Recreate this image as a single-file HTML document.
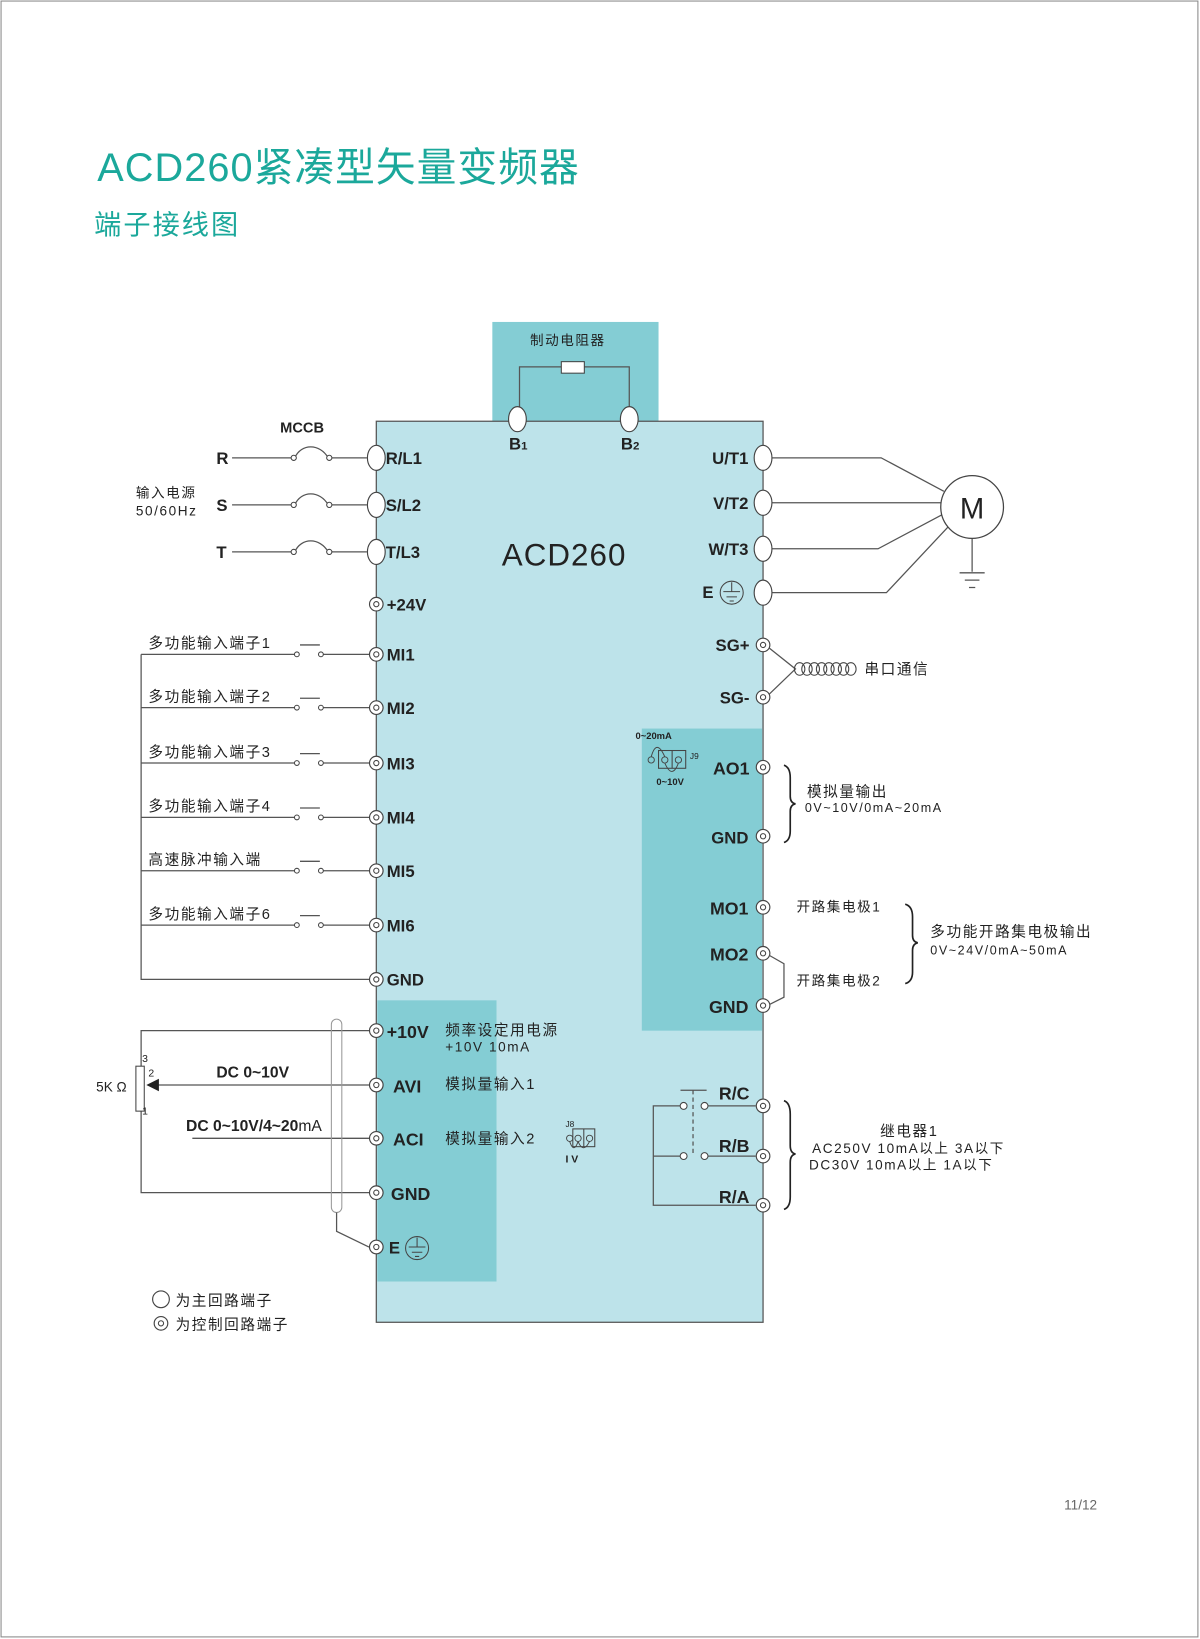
<!DOCTYPE html>
<html><head><meta charset="utf-8"><style>
html,body{margin:0;padding:0;background:#fff;}
svg{display:block;}
text{font-family:"Liberation Sans","Noto Sans CJK SC",sans-serif;fill:#222;}
.b{font-weight:bold;font-size:16px;}
.c{font-size:14px;letter-spacing:1.5px;}
.s{font-size:12px;letter-spacing:1px;}
.w{stroke:#555;stroke-width:1.2;fill:none;}
</style></head><body>
<svg width="1200" height="1639" viewBox="0 0 1148 1568" xmlns="http://www.w3.org/2000/svg">
<defs>
<g id="ct"><circle r="6.5" fill="#fff" stroke="#444" stroke-width="1.1"/><circle r="2.5" fill="none" stroke="#444" stroke-width="1"/></g>
<g id="mt"><ellipse rx="8.5" ry="12" fill="#fff" stroke="#444" stroke-width="1.1"/></g>
<g id="gnd"><circle r="11" fill="none" stroke="#444" stroke-width="1"/><path d="M0-10V-1M-8-1H8M-5 4H5M-2 8H2" stroke="#444" stroke-width="1" fill="none"/></g>
</defs>
<rect x="1" y="1" width="1145" height="1565" fill="#fff" stroke="#888" stroke-width="1"/>
<text x="93" y="173" style="font-size:38px;fill:#1ba89b;letter-spacing:1px">ACD260紧凑型矢量变频器</text>
<text x="90" y="224" style="font-size:26px;fill:#1ba89b;letter-spacing:2px">端子接线图</text>

<!-- brake box -->
<rect x="471" y="308" width="159" height="96" fill="#84cdd4"/>
<text x="507" y="330" class="c" style="font-size:13px">制动电阻器</text>
<path class="w" d="M497 393V351H537M559 351H602V393"/>
<rect x="537" y="346" width="22" height="11" fill="#fff" stroke="#444"/>

<!-- main box -->
<rect x="360" y="403" width="370" height="862" fill="#bde3ea" stroke="#555" stroke-width="1.2"/>
<rect x="361" y="957" width="114" height="269" fill="#84cdd4"/>
<rect x="614" y="697" width="115" height="289" fill="#84cdd4"/>
<use href="#mt" x="495" y="401"/><use href="#mt" x="602" y="401"/>
<text x="487" y="430" class="b">B<tspan style="font-size:11px">1</tspan></text>
<text x="594" y="430" class="b">B<tspan style="font-size:11px">2</tspan></text>
<text x="480" y="541" style="font-size:30px;letter-spacing:1px">ACD260</text>

<!-- left main terminals -->
<text x="268" y="414" class="b" style="font-size:14px">MCCB</text>
<text x="130" y="476" class="c" style="font-size:13px">输入电源</text>
<text x="130" y="493" class="c" style="font-size:13px">50/60Hz</text>
<text x="207" y="444" class="b">R</text>
<text x="207" y="489" class="b">S</text>
<text x="207" y="534" class="b">T</text>
<g class="w">
<path d="M222 438H280M316 438H351"/><path d="M282 438C288 424 306 424 314 438"/>
<path d="M222 483H280M316 483H351"/><path d="M282 483C288 469 306 469 314 483"/>
<path d="M222 528H280M316 528H351"/><path d="M282 528C288 514 306 514 314 528"/>
</g>
<g fill="#fff" stroke="#444"><circle cx="281" cy="438" r="2.5"/><circle cx="315" cy="438" r="2.5"/><circle cx="281" cy="483" r="2.5"/><circle cx="315" cy="483" r="2.5"/><circle cx="281" cy="528" r="2.5"/><circle cx="315" cy="528" r="2.5"/></g>
<use href="#mt" x="360" y="438"/><use href="#mt" x="360" y="483"/><use href="#mt" x="360" y="528"/>
<text x="369" y="444" class="b">R/L1</text><text x="369" y="489" class="b">S/L2</text><text x="369" y="534" class="b">T/L3</text>

<!-- MI inputs -->
<path class="w" d="M135 626V937H353"/>
<g class="w">
<path d="M135 626H282M287 617H306M309 626H353"/>
<path d="M135 677H282M287 668H306M309 677H353"/>
<path d="M135 730H282M287 721H306M309 730H353"/>
<path d="M135 782H282M287 773H306M309 782H353"/>
<path d="M135 833H282M287 824H306M309 833H353"/>
<path d="M135 885H282M287 876H306M309 885H353"/>
</g>
<g fill="#fff" stroke="#444"><circle cx="284" cy="626" r="2.3"/><circle cx="307" cy="626" r="2.3"/><circle cx="284" cy="677" r="2.3"/><circle cx="307" cy="677" r="2.3"/><circle cx="284" cy="730" r="2.3"/><circle cx="307" cy="730" r="2.3"/><circle cx="284" cy="782" r="2.3"/><circle cx="307" cy="782" r="2.3"/><circle cx="284" cy="833" r="2.3"/><circle cx="307" cy="833" r="2.3"/><circle cx="284" cy="885" r="2.3"/><circle cx="307" cy="885" r="2.3"/></g>
<text x="142" y="620" class="c">多功能输入端子1</text>
<text x="142" y="671" class="c">多功能输入端子2</text>
<text x="142" y="724" class="c">多功能输入端子3</text>
<text x="142" y="776" class="c">多功能输入端子4</text>
<text x="142" y="827" class="c">高速脉冲输入端</text>
<text x="142" y="879" class="c">多功能输入端子6</text>
<use href="#ct" x="360" y="578"/><text x="370" y="584" class="b">+24V</text>
<use href="#ct" x="360" y="626"/><text x="370" y="632" class="b">MI1</text>
<use href="#ct" x="360" y="677"/><text x="370" y="683" class="b">MI2</text>
<use href="#ct" x="360" y="730"/><text x="370" y="736" class="b">MI3</text>
<use href="#ct" x="360" y="782"/><text x="370" y="788" class="b">MI4</text>
<use href="#ct" x="360" y="833"/><text x="370" y="839" class="b">MI5</text>
<use href="#ct" x="360" y="885"/><text x="370" y="891" class="b">MI6</text>
<use href="#ct" x="360" y="937"/><text x="370" y="943" class="b">GND</text>

<!-- analog inputs -->
<path class="w" d="M353 986H135V1141H353"/>
<rect x="130" y="1020" width="8" height="43" fill="#fff" stroke="#444"/>
<text x="136" y="1016" style="font-size:10px">3</text>
<text x="142" y="1030" style="font-size:10px">2</text>
<text x="136" y="1066" style="font-size:10px">1</text>
<text x="92" y="1044" style="font-size:13px">5K Ω</text>
<path class="w" d="M353 1038H150"/>
<path d="M140 1038L152 1032V1044Z" fill="#222"/>
<text x="207" y="1031" class="b" style="font-size:15px">DC  0~10V</text>
<path class="w" d="M184 1089H353"/>
<text x="178" y="1082" class="b" style="font-size:15px">DC  0~10V/4~20<tspan style="font-weight:normal">mA</tspan></text>
<rect x="317" y="975" width="10" height="185" rx="5" fill="none" stroke="#999" stroke-width="1"/>
<path class="w" d="M322 1160V1178L353 1193"/>
<use href="#ct" x="360" y="986"/><text x="370" y="993" class="b" style="font-size:17px">+10V</text>
<use href="#ct" x="360" y="1038"/><text x="376" y="1045" class="b" style="font-size:17px">AVI</text>
<use href="#ct" x="360" y="1089"/><text x="376" y="1096" class="b" style="font-size:17px">ACI</text>
<use href="#ct" x="360" y="1141"/><text x="374" y="1148" class="b" style="font-size:17px">GND</text>
<use href="#ct" x="360" y="1193"/><text x="372" y="1199" class="b">E</text>
<use href="#gnd" x="399" y="1194"/>
<text x="426" y="990" class="c">频率设定用电源</text>
<text x="426" y="1006" class="c" style="font-size:13px">+10V 10mA</text>
<text x="426" y="1042" class="c">模拟量输入1</text>
<text x="426" y="1094" class="c">模拟量输入2</text>
<text x="541" y="1078" style="font-size:8px">J8</text>
<rect x="548" y="1080" width="21" height="17" fill="none" stroke="#444"/>
<path d="M558.5 1080V1097" stroke="#444"/>
<g fill="none" stroke="#444" stroke-width="0.9"><circle cx="545" cy="1089" r="3"/><circle cx="553" cy="1089" r="3"/><circle cx="564" cy="1089" r="3"/>
<path d="M545 1092Q549 1104 553 1092M553 1092Q558 1104 564 1092"/></g>
<text x="541" y="1112" class="b" style="font-size:10px">I  V</text>

<!-- right main -->
<use href="#mt" x="730" y="438"/><use href="#mt" x="730" y="481"/><use href="#mt" x="730" y="525"/><use href="#mt" x="730" y="567"/>
<text x="716" y="444" class="b" text-anchor="end">U/T1</text>
<text x="716" y="487" class="b" text-anchor="end">V/T2</text>
<text x="716" y="531" class="b" text-anchor="end">W/T3</text>
<text x="672" y="572" class="b">E</text><use href="#gnd" x="700" y="567"/>
<path class="w" d="M739 438H843L903 470M739 481H900M739 525H840L902 492M739 567H848L908 503M930 515V547"/>
<circle cx="930" cy="485" r="30" fill="#fff" stroke="#444" stroke-width="1.2"/>
<text x="930" y="496" class="b" text-anchor="middle" style="font-size:28px;font-weight:normal">M</text>
<path class="w" d="M918 548H942M923 555H937M927 562H933"/>

<!-- serial -->
<use href="#ct" x="730" y="617"/><use href="#ct" x="730" y="667"/>
<text x="717" y="623" class="b" text-anchor="end">SG+</text>
<text x="717" y="673" class="b" text-anchor="end">SG-</text>
<path class="w" d="M736 620L761 640L736 664"/>
<g fill="none" stroke="#444" stroke-width="1"><ellipse cx="765" cy="640" rx="5" ry="6"/><ellipse cx="772" cy="640" rx="5" ry="6"/><ellipse cx="779" cy="640" rx="5" ry="6"/><ellipse cx="786" cy="640" rx="5" ry="6"/><ellipse cx="793" cy="640" rx="5" ry="6"/><ellipse cx="800" cy="640" rx="5" ry="6"/><ellipse cx="807" cy="640" rx="5" ry="6"/><ellipse cx="814" cy="640" rx="5" ry="6"/></g>
<text x="827" y="645" class="c">串口通信</text>

<!-- AO -->
<text x="608" y="707" class="b" style="font-size:9px">0~20mA</text>
<text x="628" y="751" class="b" style="font-size:9px">0~10V</text>
<text x="660" y="726" style="font-size:8px">J9</text>
<rect x="630" y="718" width="26" height="17" fill="none" stroke="#444"/>
<path d="M643 718V735" stroke="#444"/>
<g fill="none" stroke="#444" stroke-width="0.9"><circle cx="623" cy="727" r="3"/><circle cx="636" cy="727" r="3"/><circle cx="649" cy="727" r="3"/>
<path d="M623 724Q628 706 636 724M636 730Q643 746 649 730"/></g>
<use href="#ct" x="730" y="734"/><use href="#ct" x="730" y="800"/>
<text x="717" y="741" class="b" text-anchor="end" style="font-size:17px">AO1</text>
<text x="716" y="807" class="b" text-anchor="end">GND</text>
<path d="M750 732Q756 734 756 744V762Q756 768 761 769Q756 770 756 776V795Q756 804 750 806" fill="none" stroke="#222" stroke-width="1.6"/>
<text x="772" y="762" class="c">模拟量输出</text>
<text x="770" y="777" class="c" style="font-size:12px">0V~10V/0mA~20mA</text>

<!-- MO -->
<use href="#ct" x="730" y="868"/><use href="#ct" x="730" y="912"/><use href="#ct" x="730" y="962"/>
<text x="716" y="875" class="b" text-anchor="end" style="font-size:17px">MO1</text>
<text x="716" y="919" class="b" text-anchor="end" style="font-size:17px">MO2</text>
<text x="716" y="969" class="b" text-anchor="end" style="font-size:17px">GND</text>
<path class="w" d="M736 914L750 922V954L736 961"/>
<text x="762" y="872" class="c" style="font-size:13px">开路集电极1</text>
<text x="762" y="943" class="c" style="font-size:13px">开路集电极2</text>
<path d="M866 865Q873 867 873 877V895Q873 901 878 902Q873 903 873 909V930Q873 939 866 941" fill="none" stroke="#222" stroke-width="1.6"/>
<text x="890" y="896" class="c">多功能开路集电极输出</text>
<text x="890" y="913" class="c" style="font-size:12px">0V~24V/0mA~50mA</text>

<!-- relay -->
<use href="#ct" x="730" y="1058"/><use href="#ct" x="730" y="1106"/><use href="#ct" x="730" y="1153"/>
<text x="717" y="1052" class="b" text-anchor="end" style="font-size:17px">R/C</text>
<text x="717" y="1102" class="b" text-anchor="end" style="font-size:17px">R/B</text>
<text x="717" y="1151" class="b" text-anchor="end" style="font-size:17px">R/A</text>
<path class="w" d="M723 1058H677M651 1058H625V1153H723M625 1106H651M677 1106H723M651 1043H676"/>
<path d="M663 1043V1106" stroke="#555" stroke-width="1.2" stroke-dasharray="4 3"/>
<g fill="#fff" stroke="#444"><circle cx="654" cy="1058" r="3.3"/><circle cx="674" cy="1058" r="3.3"/><circle cx="654" cy="1106" r="3.3"/><circle cx="674" cy="1106" r="3.3"/></g>
<path d="M750 1053Q756 1055 756 1066V1096Q756 1103 761 1104Q756 1105 756 1112V1145Q756 1155 750 1157" fill="none" stroke="#222" stroke-width="1.6"/>
<text x="842" y="1087" class="c">继电器1</text>
<text x="777" y="1103" class="c" style="font-size:13px">AC250V 10mA以上 3A以下</text>
<text x="774" y="1119" class="c" style="font-size:13px">DC30V   10mA以上 1A以下</text>

<!-- legend -->
<circle cx="154" cy="1243" r="8" fill="#fff" stroke="#444" stroke-width="1.1"/>
<text x="168" y="1249" class="c">为主回路端子</text>
<use href="#ct" x="154" y="1266"/>
<text x="168" y="1272" class="c">为控制回路端子</text>

<text x="1018" y="1444" style="font-size:13px;fill:#666">11/12</text>
</svg>
</body></html>
